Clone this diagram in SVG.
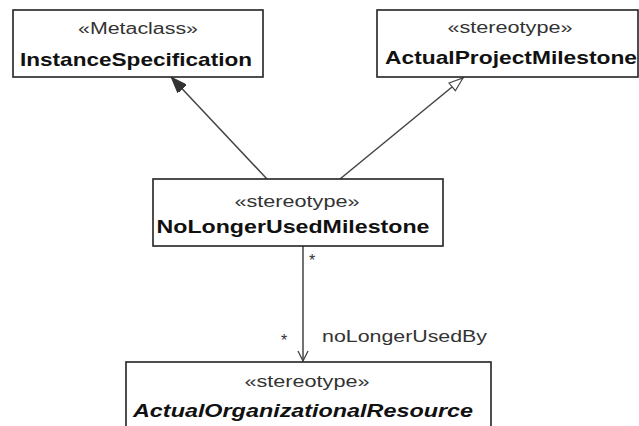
<svg xmlns="http://www.w3.org/2000/svg" width="639" height="426" viewBox="0 0 639 426">
<style>
.box{fill:#fff;stroke:#222;stroke-width:1.6}
.st{font-family:"Liberation Sans",Arial,sans-serif;font-size:16px;fill:#333;text-anchor:middle}
.nm{font-family:"Liberation Sans",Arial,sans-serif;font-size:19px;font-weight:bold;fill:#111;text-anchor:middle}
.lbl{font-family:"Liberation Sans",Arial,sans-serif;font-size:16px;fill:#333}
.ln{stroke:#444;stroke-width:1.5;fill:none}
</style>
<defs>
<marker id="filled" viewBox="0 0 16 12" refX="15" refY="6" markerWidth="16" markerHeight="12" markerUnits="userSpaceOnUse" orient="auto">
<path d="M0,0 L16,6 L0,12 Z" fill="#333" stroke="#333" stroke-width="1"/>
</marker>
<marker id="hollow" viewBox="0 0 16 12" refX="15" refY="6" markerWidth="16" markerHeight="12" markerUnits="userSpaceOnUse" orient="auto">
<path d="M1,1 L15,6 L1,11 Z" fill="#fff" stroke="#444" stroke-width="1.2"/>
</marker>
<marker id="open" viewBox="0 0 12 12" refX="11" refY="6" markerWidth="12" markerHeight="12" markerUnits="userSpaceOnUse" orient="auto">
<path d="M1,1 L11,6 L1,11" fill="none" stroke="#444" stroke-width="1.3"/>
</marker>
</defs>
<rect width="639" height="426" fill="#fff"/>
<g id="connectors">
<line class="ln" x1="267" y1="179" x2="172" y2="78" marker-end="url(#filled)"/>
<line class="ln" x1="340" y1="179" x2="463" y2="78" marker-end="url(#hollow)"/>
<line class="ln" x1="303" y1="246" x2="303" y2="361" marker-end="url(#open)"/>
<text class="lbl" x="312" y="266" text-anchor="middle">*</text>
<text class="lbl" x="284" y="346" text-anchor="middle">*</text>
<text class="lbl" x="322" y="342" textLength="165" lengthAdjust="spacingAndGlyphs">noLongerUsedBy</text>
</g>
<g id="instanceSpecification">
<rect class="box" x="13" y="10" width="250" height="67"/>
<text class="st" x="138" y="34" textLength="120" lengthAdjust="spacingAndGlyphs">«Metaclass»</text>
<text class="nm" x="136" y="66" textLength="232" lengthAdjust="spacingAndGlyphs">InstanceSpecification</text>
</g>
<g id="actualProjectMilestone">
<rect class="box" x="377" y="10" width="261" height="67"/>
<text class="st" x="510" y="33" textLength="125" lengthAdjust="spacingAndGlyphs">«stereotype»</text>
<text class="nm" x="511" y="64" textLength="252" lengthAdjust="spacingAndGlyphs">ActualProjectMilestone</text>
</g>
<g id="noLongerUsedMilestone">
<rect class="box" x="153" y="179" width="290" height="67"/>
<text class="st" x="297" y="207" textLength="125" lengthAdjust="spacingAndGlyphs">«stereotype»</text>
<text class="nm" x="293" y="233" textLength="273" lengthAdjust="spacingAndGlyphs">NoLongerUsedMilestone</text>
</g>
<g id="actualOrganizationalResource">
<rect class="box" x="126" y="362" width="365" height="80"/>
<text class="st" x="307" y="387" textLength="125" lengthAdjust="spacingAndGlyphs">«stereotype»</text>
<text class="nm" x="303" y="417" font-style="italic" textLength="340" lengthAdjust="spacingAndGlyphs">ActualOrganizationalResource</text>
</g>
</svg>
